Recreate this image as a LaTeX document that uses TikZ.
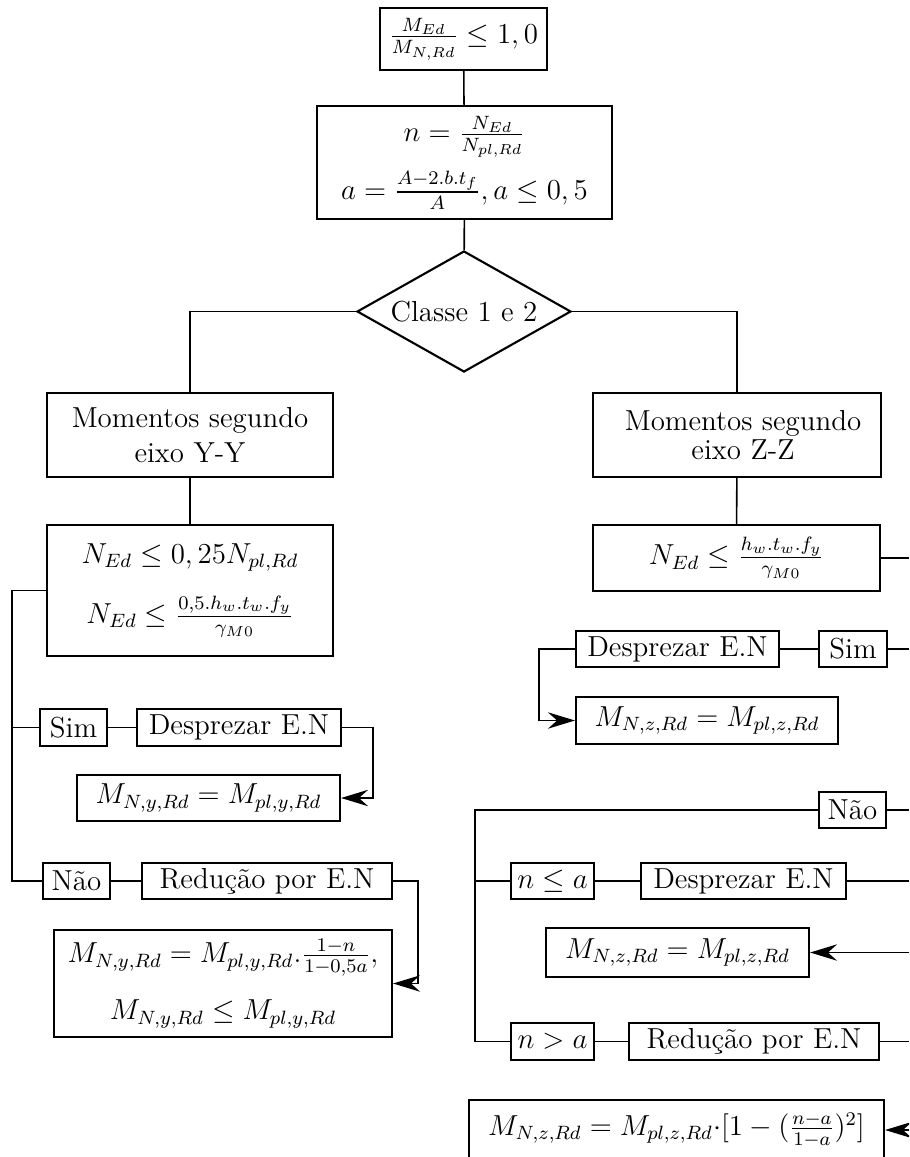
\documentclass[tikz,border=0pt,12pt]{standalone}
\usepackage{amsmath}
\usetikzlibrary{shapes.geometric,arrows.meta}
\newcommand\pxu{0.4147pt}
\tikzset{
  box/.style={draw, line width=0.88pt, inner sep=0pt, align=center},
  wire/.style={line width=0.65pt},
  arr/.style={wire, -{Stealth[length=11.2pt,width=6.8pt,inset=3.8pt]}},
}
\begin{document}
\begin{tikzpicture}[x=0.4147pt, y=-0.4147pt]
\useasboundingbox (0,0) rectangle (909,1157);
\clip (0,0) rectangle (909,1157);

% --- common trunk
\node[box, minimum width=167*\pxu, minimum height=62*\pxu] (crit) at (463.5,39)
  {$\frac{M_{Ed}}{M_{N,Rd}} \leq 1,0$};
\node[box, minimum width=295*\pxu, minimum height=113*\pxu] (nadef) at (464.5,162.5)
  {$n = \frac{N_{Ed}}{N_{pl,Rd}}$\\[4.4pt] $a = \frac{A-2.b.t_f}{A}, a \leq 0,5$};
\node[draw, line width=0.88pt, shape=diamond, aspect=1.77, inner sep=0pt,
      minimum width=214*\pxu, minimum height=121*\pxu] (classe) at (464,311.5) {Classe 1 e 2};

% --- bending about Y-Y
\node[box, minimum width=286*\pxu, minimum height=84*\pxu] (momy) at (190,435)
  {Momentos segundo\\ eixo Y-Y};
\node[box, minimum width=286*\pxu, minimum height=131*\pxu] (ycond) at (190,590.5)
  {$N_{Ed} \leq 0,25N_{pl,Rd}$\\[9pt] $N_{Ed} \leq \frac{0,5.h_w.t_w.f_y}{\gamma_{M0}}$};
\node[box, minimum width=67*\pxu, minimum height=37*\pxu] (simy) at (73.5,727.5) {Sim};
\node[box, minimum width=204*\pxu, minimum height=37*\pxu] (despy) at (239,727.5) {Desprezar E.N};
\node[box, minimum width=263*\pxu, minimum height=46*\pxu] (mny) at (208.5,798)
  {$M_{N,y,Rd} = M_{pl,y,Rd}$};
\node[box, minimum width=67*\pxu, minimum height=36*\pxu] (naoy) at (76.5,881) {Não};
\node[box, minimum width=250*\pxu, minimum height=36*\pxu] (redy) at (267,881) {Redução por E.N};
\node[box, minimum width=338*\pxu, minimum height=107*\pxu] (mny2) at (223,983.5)
  {$M_{N,y,Rd} = M_{pl,y,Rd}.\frac{1-n}{1-0,5a},$\\[9.2pt] $M_{N,y,Rd} \leq M_{pl,y,Rd}$};

% --- bending about Z-Z
\node[box, minimum width=288*\pxu, minimum height=84*\pxu] (momz) at (737,435)
  {\hspace*{5pt}Momentos segundo\\[-2.5pt] \hspace*{5pt}eixo Z-Z};
\node[box, minimum width=287*\pxu, minimum height=66*\pxu] (zcond) at (736.5,558)
  {$N_{Ed} \leq \frac{h_w.t_w.f_y}{\gamma_{M0}}$};
\node[box, minimum width=203*\pxu, minimum height=36*\pxu] (despz) at (677.5,649) {Desprezar E.N};
\node[box, minimum width=68*\pxu, minimum height=36*\pxu] (simz) at (853,649) {Sim};
\node[box, minimum width=262*\pxu, minimum height=47*\pxu] (mnz) at (707,720.5)
  {$M_{N,z,Rd} = M_{pl,z,Rd}$};
\node[box, minimum width=67*\pxu, minimum height=36*\pxu] (naoz) at (852.5,810) {Não};
\node[box, minimum width=83*\pxu, minimum height=36*\pxu] (nle) at (552.5,881) {$n \leq a$};
\node[box, minimum width=205*\pxu, minimum height=36*\pxu] (despz2) at (743.5,881) {Desprezar E.N};
\node[box, minimum width=263*\pxu, minimum height=49*\pxu] (mnz2) at (677.5,952.5)
  {$M_{N,z,Rd} = M_{pl,z,Rd}$};
\node[box, minimum width=83*\pxu, minimum height=37*\pxu] (ngt) at (552.5,1041.5) {$n > a$};
\node[box, minimum width=250*\pxu, minimum height=37*\pxu] (redz) at (754,1041.5) {Redução por E.N};
\node[box, minimum width=415*\pxu, minimum height=60*\pxu] (final) at (676.5,1130)
  {$M_{N,z,Rd} = M_{pl,z,Rd}{\cdot}[1-(\frac{n-a}{1-a})^2]$};

% --- bend and edge points
\coordinate (ly) at (12,0);
\coordinate (ry) at (373,0);
\coordinate (ry2) at (418,0);
\coordinate (lz) at (539,0);
\coordinate (lz2) at (475,0);
\coordinate (edge) at (909,0);

% --- connectors, trunk
\draw[wire] (crit) -- (nadef);
\draw[wire] (nadef) -- (classe);
\draw[wire] (classe.west) -| (momy.north);
\draw[wire] (classe.east) -| (momz.north);

% --- connectors, Y-Y
\draw[wire] (momy) -- (ycond);
\draw[wire] (ycond.west) -- (ly |- ycond.west) |- (naoy.west);
\draw[wire] (ly |- simy.west) -- (simy.west);
\draw[wire] (simy) -- (despy);
\draw[arr] (despy.east) -- (ry |- despy.east) |- (mny.east);
\draw[wire] (naoy) -- (redy);
\draw[arr] (redy.east) -- (ry2 |- redy.east) |- (mny2.east);

% --- connectors, Z-Z
\draw[wire] (momz) -- (zcond);
\draw[wire] (zcond.east) -- (edge |- zcond.east);
\draw[wire] (simz.east) -- (edge |- simz.east);
\draw[wire] (simz) -- (despz);
\draw[arr] (despz.west) -- (lz |- despz.west) |- (mnz.west);
\draw[wire] (naoz.east) -- (edge |- naoz.east);
\draw[wire] (naoz.west) -- (lz2 |- naoz.west) |- (ngt.west);
\draw[wire] (lz2 |- nle.west) -- (nle.west);
\draw[wire] (nle) -- (despz2);
\draw[wire] (despz2.east) -- (edge |- despz2.east);
\draw[arr] (edge |- mnz2.east) -- (mnz2.east);
\draw[wire] (ngt) -- (redz);
\draw[wire] (redz.east) -- (edge |- redz.east);
\draw[arr] (edge |- final.east) -- (final.east);
\end{tikzpicture}
\end{document}
